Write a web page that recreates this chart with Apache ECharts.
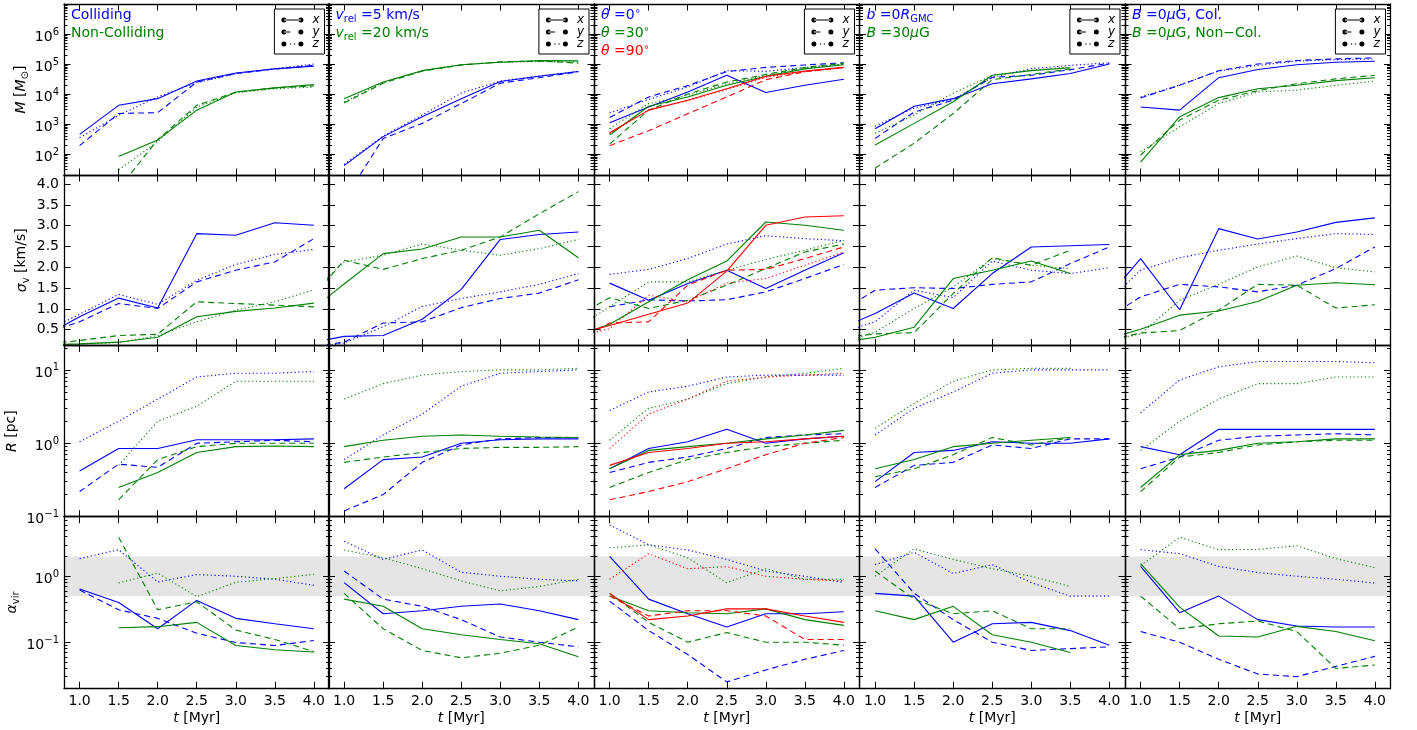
<!DOCTYPE html>
<html>
<head>
<meta charset="utf-8">
<script src="https://cdn.jsdelivr.net/npm/echarts@6/dist/echarts.min.js"></script>
<style>
html, body { margin: 0; padding: 0; background: #fff; }
#chart { width: 1417px; height: 730px; }
</style>
</head>
<body>
<div id="chart"></div>
<script>
// time axis
const t = [1.0, 1.5, 2.0, 2.5, 3.0, 3.5, 4.0];
const tSigma = [0.5, 1.0, 1.5, 2.0, 2.5, 3.0, 3.5, 4.0];
const tTicks = [1.0, 1.5, 2.0, 2.5, 3.0, 3.5, 4.0];

// y tick labels
const massTicks = [1e2, 1e3, 1e4, 1e5, 1e6];
const sigmaTicks = [0.5, 1.0, 1.5, 2.0, 2.5, 3.0, 3.5, 4.0];
const radiusTicks = [0.1, 1, 10];
const alphaTicks = [0.1, 1];

const panelText = [
  '{b|Colliding}\n{g|Non-Colliding}',
  '{bi|v}{bs|rel}{b| =5 km/s}\n{gi|v}{gs|rel}{g| =20 km/s}',
  '{bi|θ}{b| =0}{bp|∘}\n{gi|θ}{g| =30}{gp|∘}\n{ri|θ}{r| =90}{rp|∘}',
  '{bi|b}{b| =0}{bi|R}{bs|GMC}\n{gi|B}{g| =30}{gi|μ}{g|G}',
  '{bi|B}{b| =0}{bi|μ}{b|G, Col.}\n{gi|B}{g| =0}{gi|μ}{g|G, Non−Col.}'
];

// each block: [x, y, z] projections
// mass M [Msun]
const M1_blue = [[450, 4200, 7000, 27000, 50000, 69000, 85000], [190, 2240, 2400, 25000, 48000, 68000, 90000], [350, 1950, 8000, 24000, 47000, 70000, 100000]];
const M1_green = [[null, 82, 295, 2900, 11700, 16000, 20600], [null, 7, 300, 4200, 11500, 16000, 18500], [null, 30, 260, 3700, 11000, 15000, 17000]];
const M2_blue = [[41, 380, 1750, 7000, 26000, 39000, 56000], [3, 330, 1050, 4800, 23000, 35000, 55000], [45, 400, 2000, 10700, 27000, 40000, 57000]];
const M2_green = [[7000, 25000, 60000, 94000, 115000, 130000, 127000], [5000, 23000, 58000, 92000, 118000, 125000, 107000], [5500, 24000, 60000, 95000, 115000, 120000, 115000]];
const M3_blue = [[1100, 3700, 11700, 42000, 11200, 19500, 31000], [1650, 8000, 19000, 56000, 77000, 93000, 110000], [2350, 6600, 17000, 60000, 57000, 77000, 100000]];
const M3_green = [[430, 3900, 8000, 19500, 39000, 69000, 95000], [215, 2900, 10000, 25000, 45000, 77000, 107000], [700, 4800, 9000, 22000, 42000, 72000, 100000]];
const M3_red = [[510, 2900, 6200, 15000, 39000, 58000, 77000], [190, 600, 2200, 8000, 30000, 55000, 77000], [480, 3000, 6000, 14000, 36000, 55000, 75000]];
const M4_blue = [[700, 3900, 7000, 22000, 32000, 48000, 100000], [330, 2500, 6200, 36000, 42000, 65000, 107000], [850, 3400, 6600, 36000, 70000, 90000, 110000]];
const M4_green = [[200, 1050, 5500, 42000, 60000, 75000, null], [34, 230, 2240, 30000, 45000, 69000, null], [490, 2000, 10700, 42000, 62000, 80000, null]];
const M5_blue = [[3700, 2900, 35000, 66000, 95000, 115000, 124000], [7400, 19500, 60000, 100000, 131000, 148000, 160000], [8000, 20000, 58000, 90000, 125000, 140000, 148000]];
const M5_green = [[54, 1750, 7600, 15000, 19500, 28000, 35000], [93, 1350, 6200, 13000, 22000, 32000, 42000], [120, 810, 4800, 11700, 13500, 19500, 27000]];

// velocity dispersion sigma_v [km/s] (starts at t = 0.5)
const S1_blue = [[0.30, 0.81, 1.26, 1.02, 2.81, 2.77, 3.07, 3.01], [0.38, 0.69, 1.13, 1.01, 1.65, 1.93, 2.13, 2.69], [0.41, 0.87, 1.35, 1.11, 1.69, 2.07, 2.31, 2.43]];
const S1_green = [[0.13, 0.16, 0.20, 0.32, 0.81, 0.94, 1.02, 1.14], [0.14, 0.24, 0.36, 0.39, 1.17, 1.13, 1.09, 1.05], [0.075, 0.15, 0.19, 0.36, 0.69, 0.97, 1.17, 1.46]];
const S2_blue = [[0.16, 0.34, 0.36, 0.75, 1.47, 2.67, 2.79, 2.85], [0.07, 0.20, 0.66, 0.69, 1.03, 1.25, 1.38, 1.70], [0.03, 0.18, 0.57, 1.06, 1.25, 1.41, 1.59, 1.85]];
const S2_green = [[0.85, 1.60, 2.33, 2.44, 2.73, 2.73, 2.89, 2.23], [1.07, 2.17, 1.95, 2.21, 2.41, 2.73, 3.29, 3.82], [1.23, 2.13, 2.29, 2.56, 2.41, 2.29, 2.45, 2.67]];
const S3_blue = [[null, 1.62, 1.21, 1.61, 1.93, 1.49, 1.93, 2.35], [null, 1.05, 1.22, 1.19, 1.22, 1.41, 1.73, 2.07], [null, 1.83, 1.95, 2.21, 2.56, 2.76, 2.69, 2.64]];
const S3_green = [[0.30, 0.63, 1.17, 1.70, 2.15, 3.09, 3.01, 2.89], [0.74, 1.27, 1.01, 1.21, 1.57, 1.97, 2.37, 2.56], [0.45, 1.05, 1.65, 1.65, 1.93, 2.19, 2.41, 2.65]];
const S3_red = [[0.35, 0.60, 0.87, 1.14, 1.91, 3.01, 3.21, 3.24], [0.19, 0.66, 0.69, 1.57, 1.93, 1.95, 2.21, 2.49], [0.32, 0.52, 1.33, 1.17, 1.62, 1.73, 2.05, 2.37]];
const S4_blue = [[0.49, 0.89, 1.38, 1.01, 1.85, 2.49, 2.52, 2.55], [0.87, 1.45, 1.51, 1.49, 1.59, 1.65, 2.09, 2.49], [0.39, 0.69, 1.45, 1.27, 2.15, 1.93, 1.85, 1.99]];
const S4_green = [[0.17, 0.32, 0.56, 1.73, 1.93, 2.15, 1.85, null], [0.30, 0.40, 0.43, 1.37, 2.23, 2.05, 2.41, null], [0.14, 0.44, 1.01, 1.53, 2.21, 2.05, 1.97, null]];
const S5_blue = [[1.11, 2.21, 0.98, 2.93, 2.68, 2.85, 3.08, 3.19], [0.69, 1.29, 1.59, 1.53, 1.41, 1.57, 1.97, 2.49], [1.03, 1.93, 2.23, 2.41, 2.56, 2.69, 2.81, 2.79]];
const S5_green = [[0.24, 0.51, 0.85, 0.95, 1.18, 1.57, 1.63, 1.58], [0.22, 0.42, 0.48, 0.97, 1.59, 1.57, 1.02, 1.10], [0.20, 0.40, 1.21, 1.59, 2.01, 2.27, 1.99, 1.89]];

// radius R [pc]
const R1_blue = [[0.42, 0.85, 0.85, 1.12, 1.12, 1.12, 1.15], [0.22, 0.52, 0.47, 1.0, 1.05, 1.1, 1.05], [1.05, 2.0, 4.0, 8.0, 9.0, 9.0, 9.5]];
const R1_green = [[null, 0.25, 0.40, 0.75, 0.90, 0.92, 0.90], [null, 0.17, 0.60, 0.90, 1.0, 1.0, 1.0], [null, 0.5, 2.0, 3.2, 7.0, 7.0, 7.0]];
const R2_blue = [[0.24, 0.6, 0.65, 1.0, 1.12, 1.15, 1.15], [0.12, 0.2, 0.55, 0.95, 1.15, 1.2, 1.2], [0.6, 1.3, 2.5, 6.0, 9.0, 9.5, 10]];
const R2_green = [[0.9, 1.1, 1.25, 1.3, 1.25, 1.22, 1.2], [0.55, 0.65, 0.75, 0.85, 0.88, 0.88, 0.9], [4.0, 6.5, 8.5, 9.5, 10, 10, 10.5]];
const R3_blue = [[0.45, 0.85, 1.05, 1.55, 1.0, 1.15, 1.25], [0.4, 0.55, 0.65, 0.85, 1.2, 1.3, 1.35], [2.8, 5.0, 6.0, 8.0, 8.5, 8.5, 8.5]];
const R3_green = [[0.45, 0.8, 0.9, 1.0, 1.15, 1.3, 1.5], [0.25, 0.4, 0.6, 0.75, 0.9, 1.0, 1.1], [1.1, 3.0, 4.0, 6.5, 8.0, 9.0, 10.5]];
const R3_red = [[0.5, 0.75, 0.85, 1.0, 1.05, 1.15, 1.25], [0.17, 0.22, 0.3, 0.45, 0.7, 1.0, 1.2], [0.85, 2.5, 4.0, 7.0, 8.0, 8.5, 9.0]];
const R4_blue = [[0.3, 0.75, 0.8, 1.05, 1.0, 1.0, 1.15], [0.25, 0.5, 0.55, 0.95, 0.85, 1.15, 1.15], [1.3, 3.0, 5.0, 9.0, 10, 10, 10]];
const R4_green = [[0.45, 0.6, 0.9, 1.0, 1.1, 1.2, null], [0.35, 0.45, 0.7, 1.2, 0.95, 1.2, null], [1.6, 3.5, 7.0, 10.0, 10.5, 10.5, null]];
const R5_blue = [[0.9, 0.7, 1.55, 1.55, 1.55, 1.55, 1.55], [0.45, 0.65, 1.1, 1.25, 1.3, 1.35, 1.3], [2.6, 7.3, 11, 13, 13, 13, 12.5]];
const R5_green = [[0.25, 0.7, 0.8, 1.0, 1.05, 1.15, 1.15], [0.22, 0.65, 0.75, 0.95, 1.05, 1.1, 1.1], [0.8, 2.0, 4.0, 6.5, 6.5, 8.0, 8.0]];

// virial parameter alpha_vir
const A1_blue = [[0.64, 0.40, 0.16, 0.43, 0.23, 0.19, 0.16], [0.62, 0.31, 0.23, 0.137, 0.099, 0.089, 0.106], [1.85, 2.53, 0.82, 1.06, 1.0, 0.9, 0.73]];
const A1_green = [[null, 0.166, 0.172, 0.2, 0.089, 0.077, 0.071], [null, 3.9, 0.31, 0.41, 0.153, 0.11, 0.072], [null, 0.79, 1.12, 0.49, 0.81, 0.92, 1.07]];
const A2_blue = [[0.8, 0.27, 0.3, 0.35, 0.38, 0.3, 0.22], [1.2, 0.45, 0.35, 0.22, 0.12, 0.1, 0.085], [3.4, 1.8, 2.5, 1.15, 1.0, 0.9, 0.85]];
const A2_green = [[0.45, 0.35, 0.16, 0.13, 0.11, 0.095, 0.06], [0.55, 0.16, 0.075, 0.058, 0.068, 0.09, 0.17], [2.5, 1.9, 1.3, 0.85, 0.6, 0.7, 0.9]];
const A3_blue = [[2.0, 0.45, 0.27, 0.17, 0.27, 0.27, 0.29], [0.42, 0.15, 0.065, 0.025, 0.038, 0.055, 0.075], [6.0, 3.0, 2.5, 1.8, 1.2, 1.0, 0.8]];
const A3_green = [[0.5, 0.3, 0.28, 0.27, 0.32, 0.22, 0.18], [0.55, 0.2, 0.1, 0.14, 0.1, 0.1, 0.09], [2.7, 3.0, 1.9, 0.8, 1.3, 0.9, 0.9]];
const A3_red = [[0.55, 0.22, 0.25, 0.32, 0.32, 0.25, 0.2], [0.5, 0.25, 0.3, 0.3, 0.25, 0.11, 0.11], [0.9, 2.2, 1.3, 1.4, 1.0, 0.9, 0.85]];
const A4_blue = [[0.55, 0.5, 0.1, 0.19, 0.2, 0.15, 0.09], [2.6, 0.55, 0.22, 0.1, 0.075, 0.08, 0.085], [1.5, 2.3, 1.1, 1.5, 0.8, 0.5, 0.5]];
const A4_green = [[0.3, 0.22, 0.35, 0.13, 0.1, 0.07, null], [1.2, 0.45, 0.27, 0.3, 0.16, 0.16, null], [1.0, 2.6, 1.8, 1.3, 1.0, 0.7, null]];
const A5_blue = [[1.41, 0.28, 0.50, 0.22, 0.176, 0.17, 0.17], [0.145, 0.10, 0.055, 0.033, 0.030, 0.043, 0.061], [2.53, 2.2, 1.41, 1.14, 1.0, 0.9, 0.79]];
const A5_green = [[1.55, 0.34, 0.124, 0.12, 0.174, 0.145, 0.105], [0.50, 0.16, 0.19, 0.21, 0.145, 0.04, 0.045], [1.45, 3.9, 2.53, 2.55, 2.9, 1.85, 1.35]];

const alphaBand = [0.5, 2];

const FONT = 'DejaVu Sans';
const BLUE = '#0000ff', GREEN = '#008000', RED = '#ff0000';
const groupColors = [BLUE, GREEN, RED];
const lineTypes = ['solid', [6, 4], [1.2, 2.6]];

const colLeft = [64, 328.5, 594, 859.5, 1125];
const colW = 265.5;
const rowEdge = [4, 175, 345.5, 516.7, 688.3];

function minorTicks(lo, hi) {
  const out = [];
  for (let e = Math.floor(Math.log10(lo)); e <= Math.ceil(Math.log10(hi)); e++) {
    for (let k = 2; k <= 9; k++) {
      const v = k * Math.pow(10, e);
      if (v >= lo && v <= hi) out.push(v);
    }
  }
  return out;
}

const rows = [
  { type: 'log', min: 20, max: 1e7, ticks: massTicks, name: '{i|M} [{i|M}{s|⊙}]', gap: 36, x: t,
    panels: [[M1_blue, M1_green], [M2_blue, M2_green], [M3_blue, M3_green, M3_red], [M4_blue, M4_green], [M5_blue, M5_green]] },
  { type: 'value', min: 0.12, max: 4.22, ticks: sigmaTicks, name: '{i|σ}{s|v} [km/s]', gap: 32, x: tSigma,
    panels: [[S1_blue, S1_green], [S2_blue, S2_green], [S3_blue, S3_green, S3_red], [S4_blue, S4_green], [S5_blue, S5_green]] },
  { type: 'log', min: 0.1, max: 21.5, ticks: radiusTicks, name: '{i|R} [pc]', gap: 28, x: t,
    panels: [[R1_blue, R1_green], [R2_blue, R2_green], [R3_blue, R3_green, R3_red], [R4_blue, R4_green], [R5_blue, R5_green]] },
  { type: 'log', min: 0.02, max: 8, ticks: alphaTicks, name: '{i|α}{s|vir}', gap: 44, x: t, band: alphaBand,
    panels: [[A1_blue, A1_green], [A2_blue, A2_green], [A3_blue, A3_green, A3_red], [A4_blue, A4_green], [A5_blue, A5_green]] }
];

function powLabel(v) {
  const e = Math.round(Math.log10(v));
  return '{b|10}{s|' + (e < 0 ? '\u2212' + (-e) : e) + '}';
}

const labelRich = {
  b: { fontSize: 14, fontFamily: FONT, color: '#000', lineHeight: 14, padding: [3, 0, 0, 0], verticalAlign: 'top' },
  s: { fontSize: 10, fontFamily: FONT, color: '#000', lineHeight: 10, verticalAlign: 'top' }
};
const nameRich = {
  n: { fontSize: 14, fontFamily: FONT, color: '#000', lineHeight: 14, padding: [1, 0, 3, 0], verticalAlign: 'top' },
  i: { fontSize: 14, fontFamily: FONT, fontStyle: 'italic', color: '#000', lineHeight: 14, padding: [1, 0, 3, 0], verticalAlign: 'top' },
  s: { fontSize: 10, fontFamily: FONT, color: '#000', lineHeight: 10, padding: [7, 0, 1, 0], verticalAlign: 'top' }
};

function titleRich() {
  const out = {};
  [['b', BLUE], ['g', GREEN], ['r', RED]].forEach(function (p) {
    const k = p[0], c = p[1];
    out[k] = { color: c, fontSize: 14, fontFamily: FONT, lineHeight: 18, verticalAlign: 'middle' };
    out[k + 'i'] = Object.assign({}, out[k], { fontStyle: 'italic' });
    out[k + 's'] = { color: c, fontSize: 10, fontFamily: FONT, lineHeight: 10, padding: [8, 0, 0, 0], verticalAlign: 'top' };
    out[k + 'p'] = { color: c, fontSize: 10, fontFamily: FONT, lineHeight: 10, verticalAlign: 'top' };
  });
  return out;
}

function makeAxis(o) {
  const ax = {
    type: o.type, gridIndex: o.grid, position: o.pos, min: o.min, max: o.max,
    axisLine: { show: !!o.line, onZero: false, lineStyle: { color: '#000', width: 1.3 } },
    axisTick: { show: true, inside: true, length: o.len, customValues: o.ticks, lineStyle: { color: '#000', width: 1 } },
    axisLabel: { show: false },
    splitLine: { show: false },
    minorTick: { show: false },
    minorSplitLine: { show: false },
    silent: true,
    z: 5
  };
  if (o.type === 'log') ax.logBase = 10;
  if (o.labels) {
    ax.axisLabel = Object.assign({ show: true, customValues: o.ticks, color: '#000', fontSize: 14, fontFamily: FONT, margin: 6 }, o.labels);
  }
  if (o.name) {
    ax.name = o.name;
    ax.nameLocation = 'middle';
    ax.nameGap = o.gap;
    if (o.rotate != null) ax.nameRotate = o.rotate;
    ax.nameTextStyle = { fontSize: 14, fontFamily: FONT, color: '#000', rich: nameRich };
  }
  return ax;
}

const grids = [], xAxes = [], yAxes = [], series = [];

rows.forEach(function (row, r) {
  const top = rowEdge[r], h = rowEdge[r + 1] - rowEdge[r];
  const minor = row.type === 'log' ? minorTicks(row.min, row.max) : null;
  for (let c = 0; c < 5; c++) {
    const gi = grids.length;
    grids.push({ left: colLeft[c], top: top, width: colW, height: h, show: false, containLabel: false, outerBoundsMode: 'none' });

    const xi = xAxes.length;
    xAxes.push(makeAxis({ type: 'value', grid: gi, pos: 'bottom', min: 0.8, max: 4.2, line: true, len: 6.5, ticks: tTicks,
      labels: r === 3 ? { formatter: function (v) { return v.toFixed(1); } } : null,
      name: r === 3 ? '{i|t}{n| [Myr]}' : null, gap: 22 }));
    xAxes.push(makeAxis({ type: 'value', grid: gi, pos: 'top', min: 0.8, max: 4.2, line: true, len: 6.5, ticks: tTicks }));

    const yi = yAxes.length;
    let labels = null;
    if (c === 0) {
      labels = row.type === 'log'
        ? { formatter: powLabel, rich: labelRich, margin: 5 }
        : { formatter: function (v) { return v.toFixed(1); }, margin: 5 };
    }
    yAxes.push(makeAxis({ type: row.type, grid: gi, pos: 'left', min: row.min, max: row.max, line: true, len: 6.5, ticks: row.ticks,
      labels: labels, name: c === 0 ? row.name : null, gap: row.gap, rotate: 90 }));
    yAxes.push(makeAxis({ type: row.type, grid: gi, pos: 'right', min: row.min, max: row.max, line: true, len: 6.5, ticks: row.ticks }));
    if (minor) {
      yAxes.push(makeAxis({ type: row.type, grid: gi, pos: 'left', min: row.min, max: row.max, line: false, len: 3.5, ticks: minor }));
      yAxes.push(makeAxis({ type: row.type, grid: gi, pos: 'right', min: row.min, max: row.max, line: false, len: 3.5, ticks: minor }));
    }

    if (row.band) {
      series.push({
        type: 'line', xAxisIndex: xi, yAxisIndex: yi, data: [[1, '-']], symbol: 'none', silent: true, z: 1,
        markArea: { silent: true, itemStyle: { color: '#e5e5e5', opacity: 1 },
          data: [[{ yAxis: row.band[0] }, { yAxis: row.band[1] }]] }
      });
    }

    row.panels[c].forEach(function (group, g) {
      group.forEach(function (vals, k) {
        series.push({
          type: 'line', xAxisIndex: xi, yAxisIndex: yi,
          data: row.x.map(function (tt, i) { return [tt, vals[i] == null ? '-' : vals[i]]; }),
          symbol: 'none', showSymbol: false, silent: true, clip: true, z: 3,
          lineStyle: { color: groupColors[g], width: 1.1, type: lineTypes[k] },
          itemStyle: { color: groupColors[g] }
        });
      });
    });
  }
});

// black key series for the x / y / z legends
['x', 'y', 'z'].forEach(function (n) {
  series.push({ name: n, type: 'line', xAxisIndex: 0, yAxisIndex: 0, data: [], symbol: 'none',
    lineStyle: { color: '#000', width: 1, type: 'solid' }, itemStyle: { color: '#000' } });
});

const dot = function (cx) { return 'M' + (cx - 2.5) + ',3a2.5,2.5 0 1,0 5,0a2.5,2.5 0 1,0 -5,0z'; };
const iconX = 'path://' + dot(2.5) + 'M2.5,2.45h17v1.1h-17z' + dot(19.5);
const iconY = 'path://' + dot(2.5) + 'M2.5,2.45h6.5v1.1h-6.5z' + dot(19.5);
const iconZ = 'path://' + dot(2.5) + 'M8.4,2.45h1.4v1.1h-1.4zM12.4,2.45h1.4v1.1h-1.4z' + dot(19.5);

const legends = colLeft.map(function (l) {
  return {
    orient: 'vertical', right: 1417 - (l + colW - 5), top: 9,
    itemWidth: 22, itemHeight: 5.5, itemGap: 0,
    padding: [5, 5, 4, 7],
    borderColor: '#000', borderWidth: 1, borderRadius: 0, backgroundColor: '#fff',
    selectedMode: false, inactiveColor: '#000',
    itemStyle: { color: '#000', borderWidth: 0 },
    lineStyle: { width: 0 },
    textStyle: { fontSize: 12, fontStyle: 'italic', fontFamily: FONT, color: '#000', lineHeight: 10, padding: [0, 0, 0, 4] },
    data: [{ name: 'x', icon: iconX }, { name: 'y', icon: iconY }, { name: 'z', icon: iconZ }],
    z: 10
  };
});

const titles = colLeft.map(function (l, c) {
  return {
    left: l + 7, top: 6, padding: 0, text: panelText[c],
    textStyle: { fontSize: 14, fontFamily: FONT, fontWeight: 'normal', lineHeight: 18, rich: titleRich() },
    z: 10
  };
});

const chart = echarts.init(document.getElementById('chart'));
chart.setOption({
  animation: false,
  backgroundColor: '#fff',
  textStyle: { fontFamily: FONT },
  title: titles,
  legend: legends,
  grid: grids,
  xAxis: xAxes,
  yAxis: yAxes,
  series: series
});
</script>
</body>
</html>
